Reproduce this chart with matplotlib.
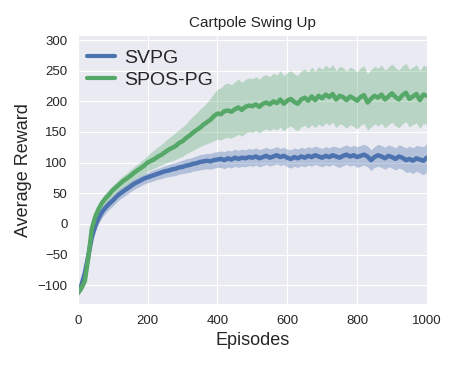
import numpy as np
import matplotlib
matplotlib.use("Agg")
import matplotlib.pyplot as plt
import seaborn as sns

episodes = list(range(0, 1001, 10))

spos_mean = [-113, -105, -93, -55, -8, 12, 25, 35, 42, 48,
             55, 60, 65, 70, 74, 78, 83, 87, 91, 95,
             100, 103, 106, 110, 113, 117, 121, 124, 127, 132,
             135, 140, 144, 149, 153, 157, 162, 166, 170, 176,
             180, 179, 184, 185, 183, 187, 190, 186, 191, 193,
             192, 195, 191, 196, 198, 195, 200, 197, 203, 196,
             201, 204, 199, 196, 203, 206, 201, 208, 202, 209,
             205, 211, 207, 212, 203, 209, 207, 202, 208, 205,
             201, 207, 210, 198, 204, 209, 206, 211, 203, 208,
             213, 207, 203, 210, 214, 204, 208, 212, 202, 211, 209]
spos_lo = [-116, -110, -100, -63, -18, 4, 17, 27, 34, 40,
           46, 51, 56, 60, 64, 68, 72, 76, 79, 82,
           86, 89, 91, 94, 96, 99, 101, 103, 105, 108,
           110, 114, 117, 120, 123, 126, 129, 131, 133, 136,
           138, 137, 140, 141, 140, 143, 146, 143, 148, 150,
           149, 152, 148, 153, 155, 152, 156, 153, 158, 152,
           157, 160, 155, 152, 158, 161, 156, 162, 157, 163,
           159, 165, 161, 166, 157, 163, 161, 156, 162, 159,
           155, 161, 164, 153, 158, 163, 160, 164, 157, 162,
           166, 160, 157, 163, 167, 158, 162, 165, 156, 164, 162]
spos_hi = [-110, -100, -85, -47, 2, 20, 33, 43, 51, 57,
           63, 68, 74, 79, 83, 88, 93, 97, 102, 106,
           112, 117, 121, 126, 130, 135, 140, 144, 149, 154,
           158, 163, 170, 176, 181, 187, 192, 198, 205, 213,
           220, 222, 228, 230, 227, 232, 236, 231, 236, 238,
           237, 240, 236, 242, 243, 240, 246, 243, 250, 242,
           247, 250, 245, 242, 250, 253, 248, 256, 249, 257,
           252, 259, 254, 260, 250, 257, 255, 249, 256, 253,
           248, 255, 258, 245, 252, 257, 254, 259, 251, 256,
           261, 255, 251, 258, 262, 252, 256, 260, 250, 259, 257]

svpg_mean = [-113, -100, -80, -52, -22, -3, 10, 20, 27, 33,
             38, 44, 49, 53, 57, 61, 65, 68, 71, 74,
             76, 78, 80, 82, 84, 86, 87, 89, 90, 92,
             93, 95, 96, 98, 99, 101, 102, 103, 102, 104,
             105, 106, 104, 107, 105, 108, 106, 108, 107, 109,
             108, 110, 107, 109, 111, 108, 110, 112, 109, 111,
             108, 106, 109, 107, 110, 108, 111, 109, 112, 110,
             108, 111, 109, 112, 110, 108, 111, 113, 110, 112,
             109, 111, 113, 110, 104, 109, 112, 110, 107, 111,
             109, 106, 110, 108, 104, 106, 103, 107, 105, 103, 108]
svpg_lo = [-116, -105, -87, -60, -31, -12, 1, 11, 18, 24,
           29, 35, 40, 44, 48, 52, 56, 59, 62, 65,
           67, 69, 71, 73, 74, 76, 77, 78, 79, 81,
           82, 83, 84, 86, 87, 88, 89, 90, 89, 91,
           92, 92, 90, 93, 91, 94, 92, 94, 93, 95,
           94, 96, 93, 95, 97, 94, 96, 98, 95, 97,
           93, 91, 94, 92, 95, 93, 96, 94, 97, 95,
           93, 96, 94, 97, 94, 92, 95, 97, 94, 96,
           92, 94, 96, 93, 87, 92, 94, 92, 89, 93,
           91, 88, 91, 89, 84, 85, 82, 86, 83, 80, 85]
svpg_hi = [-110, -95, -73, -44, -13, 6, 19, 28, 35, 41,
           46, 52, 57, 61, 65, 69, 73, 76, 79, 82,
           84, 87, 89, 91, 93, 95, 97, 99, 100, 102,
           104, 106, 107, 109, 111, 113, 114, 115, 115, 117,
           118, 119, 118, 120, 119, 122, 120, 122, 121, 123,
           122, 124, 121, 123, 125, 122, 124, 126, 123, 125,
           122, 121, 124, 122, 125, 123, 126, 124, 127, 125,
           123, 126, 124, 127, 126, 124, 127, 129, 126, 128,
           126, 128, 130, 127, 121, 126, 130, 128, 125, 129,
           127, 124, 129, 127, 124, 127, 124, 128, 127, 126, 131]

sns.set_style("darkgrid")
plt.rcParams['font.family'] = ['Liberation Sans', 'DejaVu Sans']

blue = "#4C72B0"
green = "#55A868"

fig = plt.figure(figsize=(4.58, 3.66), dpi=100)
ax = fig.add_axes([0.170, 0.169, 0.762, 0.735])

ax.fill_between(episodes, svpg_lo, svpg_hi, color=blue, alpha=0.35, linewidth=0)
ax.fill_between(episodes, spos_lo, spos_hi, color=green, alpha=0.33, linewidth=0)
ax.plot(episodes, svpg_mean, color=blue, linewidth=3.2, label="SVPG")
ax.plot(episodes, spos_mean, color=green, linewidth=3.2, label="SPOS-PG")

ax.set_xlim(0, 1000)
ax.set_ylim(-131, 308)
ax.set_xticks([0, 200, 400, 600, 800, 1000])
ax.set_yticks([-100, -50, 0, 50, 100, 150, 200, 250, 300])
ax.tick_params(labelsize=9.5, colors="#262626", pad=4)
ax.set_xlabel("Episodes", fontsize=13, color="#262626")
ax.set_ylabel("Average Reward", fontsize=13, color="#262626")
ax.set_title("Cartpole Swing Up", fontsize=11, color="#262626", pad=6)

leg = ax.legend(loc="upper left", bbox_to_anchor=(0.0, 0.98), fontsize=14,
                frameon=False, handlelength=1.45, labelspacing=0.22,
                borderaxespad=0.05, handletextpad=0.5)
for line in leg.get_lines():
    line.set_linewidth(3)
for t in leg.get_texts():
    t.set_color("#262626")

fig.savefig("out.png", dpi=100)
